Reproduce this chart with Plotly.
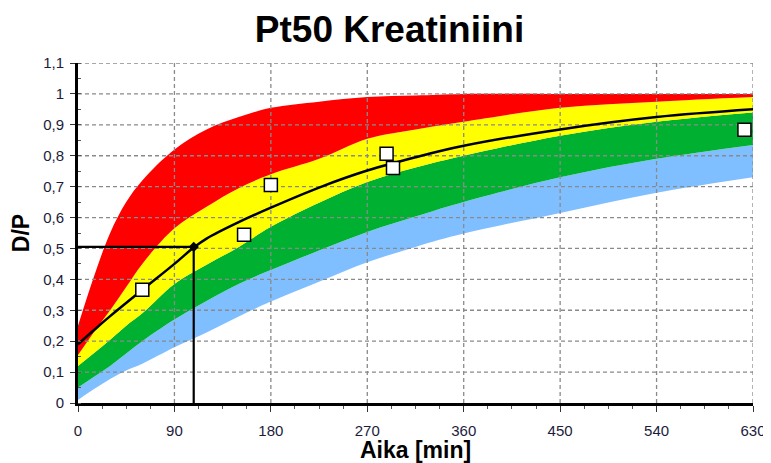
import plotly.graph_objects as go

# время (мин) для границ зон
band_x = [0, 15, 30, 45, 60, 90, 120, 150, 180, 225, 270, 315, 360, 450, 540, 630]
blue_low = [0.01, 0.045, 0.078, 0.105, 0.127, 0.18, 0.228, 0.28, 0.328, 0.392, 0.455, 0.505, 0.548, 0.615, 0.68, 0.73]
green_low = [0.05, 0.085, 0.12, 0.16, 0.2, 0.27, 0.33, 0.385, 0.43, 0.493, 0.553, 0.603, 0.65, 0.73, 0.79, 0.835]
yellow_low = [0.12, 0.162, 0.205, 0.25, 0.29, 0.385, 0.447, 0.505, 0.57, 0.648, 0.715, 0.762, 0.8, 0.865, 0.91, 0.94]
red_low = [0.155, 0.23, 0.3, 0.375, 0.45, 0.565, 0.635, 0.695, 0.74, 0.79, 0.855, 0.885, 0.91, 0.955, 0.975, 0.99]
red_high = [0.25, 0.41, 0.55, 0.65, 0.72, 0.82, 0.885, 0.925, 0.955, 0.975, 0.99, 0.995, 1.0, 1.0, 1.0, 1.0]

# средняя кривая
mean_x = [0, 15, 30, 60, 90, 108, 120, 150, 180, 225, 270, 315, 360, 450, 540, 630]
mean_y = [0.19, 0.236, 0.281, 0.366, 0.45, 0.503, 0.532, 0.585, 0.632, 0.697, 0.752, 0.795, 0.832, 0.885, 0.925, 0.95]

# измерения пациента
pt_x = [60, 155, 180, 288, 294, 622]
pt_y = [0.366, 0.544, 0.705, 0.806, 0.76, 0.884]

# отсчёт по кривой
read_x = 108
read_y = 0.505

x_ticks = [0, 90, 180, 270, 360, 450, 540, 630]
y_ticks = [0, 0.1, 0.2, 0.3, 0.4, 0.5, 0.6, 0.7, 0.8, 0.9, 1.0, 1.1]

fig = go.Figure()

fig.add_trace(go.Scatter(x=band_x, y=blue_low, mode="lines", line=dict(width=0, shape="spline"),
                         hoverinfo="skip", showlegend=False))
for vals, col in [(green_low, "#80BFFF"), (yellow_low, "#00B030"),
                  (red_low, "#FFFF00"), (red_high, "#FF0000")]:
    fig.add_trace(go.Scatter(x=band_x, y=vals, mode="lines", fill="tonexty", fillcolor=col,
                             line=dict(width=0, shape="spline"), hoverinfo="skip", showlegend=False))

# сетка поверх зон
gx, gy = [], []
for v in x_ticks[1:]:
    gx += [v, v, None]
    gy += [y_ticks[0], y_ticks[-1], None]
for v in y_ticks[1:]:
    gx += [x_ticks[0], x_ticks[-1], None]
    gy += [v, v, None]
fig.add_trace(go.Scatter(x=gx, y=gy, mode="lines", line=dict(color="#8a8a8a", width=1.3, dash="4px,3px"),
                         hoverinfo="skip", showlegend=False))

fig.add_trace(go.Scatter(x=mean_x, y=mean_y, mode="lines", line=dict(color="black", width=2.5, shape="spline"),
                         showlegend=False))

fig.add_trace(go.Scatter(x=[0, read_x, read_x], y=[read_y, read_y, 0], mode="lines",
                         line=dict(color="black", width=2.2), showlegend=False))
fig.add_trace(go.Scatter(x=[read_x], y=[read_y], mode="markers",
                         marker=dict(symbol="diamond", size=8, color="black"), showlegend=False))

fig.add_trace(go.Scatter(x=pt_x, y=pt_y, mode="markers",
                         marker=dict(symbol="square", size=13, color="white",
                                     line=dict(color="black", width=1.5)),
                         showlegend=False))

tick_font = dict(family="Liberation Sans, Arial", size=15, color="#1c1c3c")
title_font = dict(family="Liberation Sans, Arial", size=23, color="black")

# страница имеет отступ 8px, поэтому фигура чуть меньше окна
fig_w, fig_h = 763, 455

fig.update_layout(
    title=dict(text="<b>Pt50 Kreatiniini</b>", x=0.5, xanchor="center", y=1 - 21 / fig_h, yanchor="middle",
               font=dict(family="Liberation Sans, Arial", size=37, color="black")),
    xaxis=dict(
        range=[0, 630], tickvals=x_ticks, showgrid=False, zeroline=False, automargin=False,
        showline=True, linewidth=3, linecolor="black", layer="above traces",
        ticks="outside", ticklen=6, tickwidth=1, tickcolor="#333",
        minor=dict(ticks="outside", dtick=22.5, ticklen=3, tickcolor="#555", showgrid=False),
        tickfont=tick_font, ticklabelstandoff=6,
        title=dict(text="<b>Aika [min]</b>", font=title_font, standoff=8),
    ),
    yaxis=dict(
        range=[0, 1.1], tickvals=y_ticks, showgrid=False, zeroline=False, automargin=False,
        showline=True, linewidth=3, linecolor="black", layer="above traces",
        ticks="outside", ticklen=5, tickwidth=1, tickcolor="#333",
        minor=dict(ticks="inside", dtick=0.05, ticklen=3, tickcolor="#555", showgrid=False),
        tickfont=tick_font, ticklabelstandoff=3,
        title=dict(text="<b>D/P</b>", font=title_font, standoff=10),
    ),
    separators=", ",
    plot_bgcolor="white",
    paper_bgcolor="white",
    width=fig_w,
    height=fig_h,
    margin=dict(l=70, r=18, t=55, b=60),
)

fig.write_html("out.html")
